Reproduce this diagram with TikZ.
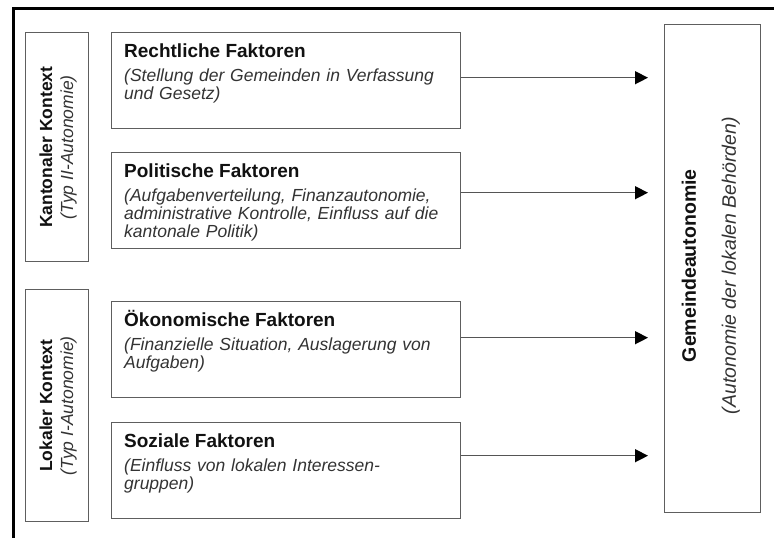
\documentclass[tikz,border=0pt]{standalone}
\usepackage{fontspec}
\setmainfont{Liberation Sans}
\usetikzlibrary{arrows.meta,calc}
\definecolor{boxgray}{HTML}{5E5E5E}
\definecolor{arrgray}{HTML}{555555}
\definecolor{ttlcol}{HTML}{111111}
\definecolor{dsccol}{HTML}{333333}
\begin{document}
\begin{tikzpicture}[x=1pt,y=-1pt,
  box/.style={draw=boxgray,line width=1.4pt,inner sep=0pt,anchor=north west},
  ttl/.style={anchor=base west,inner sep=0pt,text=ttlcol,font=\fontsize{19}{19}\selectfont\bfseries},
  dsc/.style={anchor=base west,inner sep=0pt,text=dsccol,text width=330pt,align=left,font=\fontsize{17.5}{18.3}\selectfont\itshape},
  vlab/.style={rotate=90,align=center,inner sep=0pt,font=\fontsize{17.5}{21}\selectfont},
  arr/.style={draw=arrgray,line width=1.4pt,-{Triangle[length=13pt,width=13pt,color=black]},shorten >=16pt}]
\useasboundingbox (0,0) rectangle (774,538);
\clip (0,0) rectangle (774,538);
% outer frame
\draw[black,line width=2.8pt] (774,8.5) -- (13.5,8.5) -- (13.5,540);
% context boxes
\node[box,minimum width=63pt,minimum height=229pt] (k) at (25,32) {};
\node[box,minimum width=63pt,minimum height=232pt] (l) at (25,289) {};
\node[vlab,text=ttlcol] (kt) at ($(k.center)+(1,0)$) {\bfseries Kantonaler Kontext\\{\color{dsccol}\itshape (Typ II-Autonomie)}};
\node[vlab,text=ttlcol] (lt) at ($(l.center)+(1,0)$) {\bfseries Lokaler Kontext\\{\color{dsccol}\itshape (Typ I-Autonomie)}};
% factor boxes
\node[box,minimum width=349pt,minimum height=96pt] (r) at (111,32) {};
\node[box,minimum width=349pt,minimum height=96pt] (p) at (111,152) {};
\node[box,minimum width=349pt,minimum height=96pt] (o) at (111,301) {};
\node[box,minimum width=349pt,minimum height=96pt] (s) at (111,422) {};
\node[ttl] (rt) at ($(r.north west)+(13,25)$) {Rechtliche Faktoren};
\node[dsc] (rd) at ($(r.north west)+(13,49.5)$) {(Stellung der Gemeinden in Verfassung\\und Gesetz)};
\node[ttl] (pt) at ($(p.north west)+(13,25)$) {Politische Faktoren};
\node[dsc] (pd) at ($(p.north west)+(13,49)$) {(Aufgabenverteilung, Finanzautonomie,\\administrative Kontrolle, Einfluss auf die\\kantonale Politik)};
\node[ttl] (ot) at ($(o.north west)+(13,25)$) {Ökonomische Faktoren};
\node[dsc] (od) at ($(o.north west)+(13,49)$) {(Finanzielle Situation, Auslagerung von\\Aufgaben)};
\node[ttl] (st) at ($(s.north west)+(13,25)$) {Soziale Faktoren};
\node[dsc] (sd) at ($(s.north west)+(13,49)$) {(Einfluss von lokalen Interessen-\\gruppen)};
% target box
\node[box,minimum width=96pt,minimum height=488pt] (g) at (664,24) {};
\node[rotate=90,align=center,inner sep=0pt,font=\fontsize{19.5}{40}\selectfont] (gt) at ($(g.center)+(-2,-3)$) {{\bfseries\color{ttlcol}Gemeindeautonomie}\\{\itshape\color{dsccol}(Autonomie der lokalen Behörden)}};
% arrows
\draw[arr] ([yshift=3pt]r.east) -- ([yshift=3pt]r.east -| g.west);
\draw[arr] ([yshift=8pt]p.east) -- ([yshift=8pt]p.east -| g.west);
\draw[arr] ([yshift=12pt]o.east) -- ([yshift=12pt]o.east -| g.west);
\draw[arr] ([yshift=15pt]s.east) -- ([yshift=15pt]s.east -| g.west);
\end{tikzpicture}
\end{document}
